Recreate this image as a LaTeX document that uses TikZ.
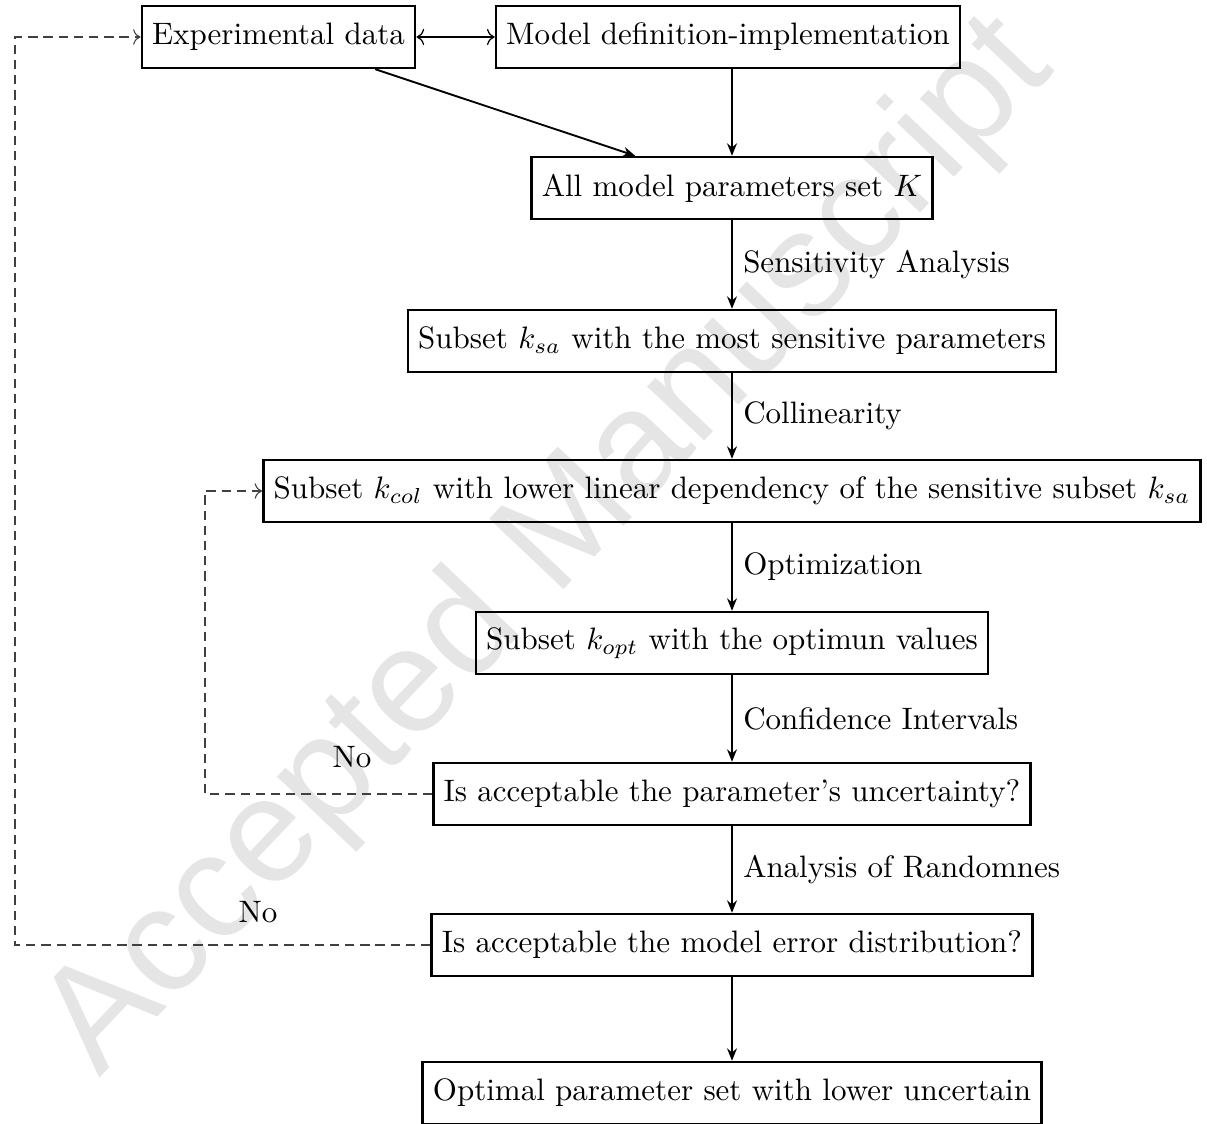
\documentclass[tikz,border=0pt]{standalone}
\usepackage{fontspec}
\newfontfamily\wmfont{Liberation Sans}
\usetikzlibrary{arrows.meta}
\begin{document}
\begin{tikzpicture}[x={(0.3226pt,0)}, y={(0,-0.3226pt)},
  box/.style={draw, line width=0.8pt, minimum height=20pt, inner sep=3.33pt},
  flow/.style={semithick, -{Stealth[length=4pt,width=3.2pt]}},
  lab/.style={right, midway},
  back/.style={line width=0.35pt, draw=black!75, dash pattern=on 3pt off 1.9pt},
  wmark/.style={rotate=46.5, text=black!10, font=\wmfont\fontsize{48}{50}\selectfont}
]
\useasboundingbox (0,0) rectangle (1207,1124);
\node[wmark] (wm) at (550,548) {Accepted Manuscript};

\node[box] (exp) at (278.5,37) {Experimental data};
\node[box] (model) at (728,37) {Model definition-implementation};
\node[box] (K) at (732,188) {All model parameters set $K$};
\node[box] (sa) at (732,341) {Subset $k_{sa}$ with the most sensitive parameters};
\node[box] (col) at (732,491) {Subset $k_{col}$ with lower linear dependency of the sensitive subset $k_{sa}$};
\node[box] (opt) at (732,643) {Subset $k_{opt}$ with the optimun values};
\node[box] (unc) at (732,794) {Is acceptable the parameter's uncertainty?};
\node[box] (err) at (732,945) {Is acceptable the model error distribution?};
\node[box] (fin) at (732,1093) {Optimal parameter set with lower uncertain};

\draw[thin, {To}-{To}] (exp) -- (model);
\draw[flow] (exp) -- (K);
\draw[flow] (K.north |- model.south) -- (K.north);
\draw[flow] (K) -- node[lab] {Sensitivity Analysis} (sa);
\draw[flow] (sa) -- node[lab] {Collinearity} (col);
\draw[flow] (col) -- node[lab] {Optimization} (opt);
\draw[flow] (opt) -- node[lab] {Confidence Intervals} (unc);
\draw[flow] (unc) -- node[lab] {Analysis of Randomnes} (err);
\draw[flow] (err) -- (fin);

\coordinate (c1) at (205,0);
\coordinate (c2) at (15,0);
\draw[back, -{To}] (unc.west) -- (unc.west -| c1) -- (c1 |- col.west) -- (col.west);
\draw[back, -{To}] (err.west) -- (err.west -| c2) -- (c2 |- exp.west) -- (exp.west);
\node (no1) at (352,757) {No};
\node (no2) at (258,912) {No};
\end{tikzpicture}
\end{document}
